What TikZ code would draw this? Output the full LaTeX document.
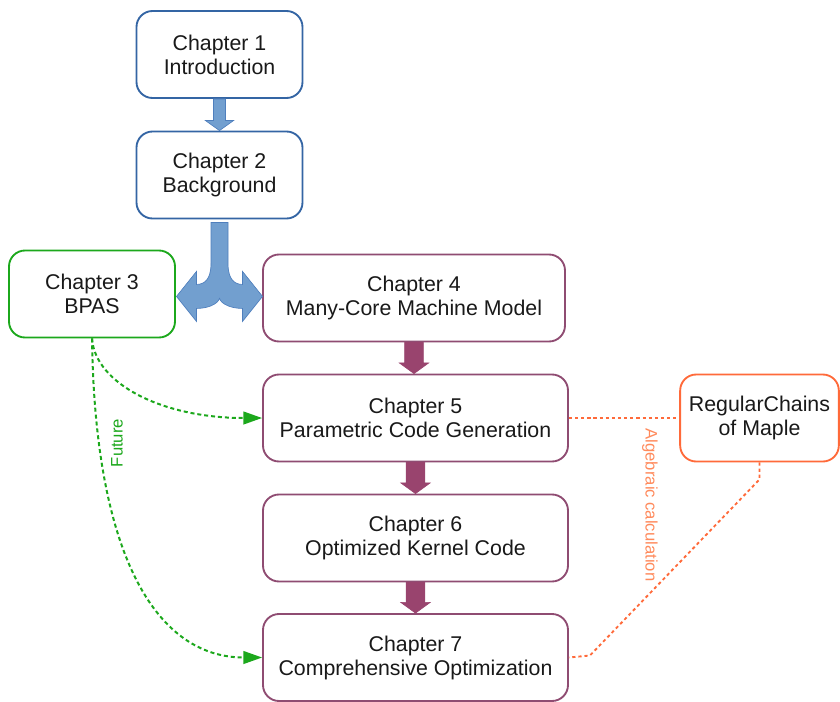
\documentclass[tikz,border=0pt]{standalone}
\usepackage{fontspec}
\setmainfont{Liberation Sans}
\usepackage{tikz}
\usetikzlibrary{calc,arrows.meta}

\definecolor{chapblue}{HTML}{3465A4}
\definecolor{arrblue}{HTML}{729FCF}
\definecolor{arrblueline}{HTML}{4F7FBD}
\definecolor{bpasgreen}{HTML}{1CA81C}
\definecolor{chappurple}{HTML}{8F4C72}
\definecolor{arrpurple}{HTML}{99446E}
\definecolor{rcorange}{HTML}{FF6A3A}
\definecolor{labelorange}{HTML}{FF8A5C}

% block arrow: style, from, to, half shaft, half head, head length
\newcommand{\blockarr}[6]{%
  \filldraw[#1] let \p1=(#2.south), \p2=(#3.north) in
    (\x1-#4,\y1) -- (\x1-#4,\y2+#6) -- (\x1-#5,\y2+#6) -- (\x1,\y2)
    -- (\x1+#5,\y2+#6) -- (\x1+#4,\y2+#6) -- (\x1+#4,\y1) -- cycle;}

\tikzset{
  chapbox/.style={draw, rounded corners=12pt, line width=1.4pt, fill=white,
    align=center, inner sep=0pt, minimum height=65.25pt, text=black!90,
    font=\fontsize{16}{18}\selectfont},
  bluebox/.style={chapbox, draw=chapblue, minimum width=124.5pt},
  greenbox/.style={chapbox, draw=bpasgreen, minimum width=124.5pt},
  purplebox/.style={chapbox, draw=chappurple, minimum width=228.75pt},
  orangebox/.style={chapbox, draw=rcorange, minimum width=119pt},
  bluearrow/.style={fill=arrblue, draw=arrblueline, line width=0.5pt},
  purplearrow/.style={fill=arrpurple, draw=arrpurple, line width=0.5pt},
  futureline/.style={draw=bpasgreen, line width=1.5pt, dash pattern=on 3pt off 2.2pt,
    -{Triangle[length=14pt,width=9.5pt]}},
  algline/.style={draw=rcorange, line width=1.4pt, dash pattern=on 2.4pt off 2.2pt},
  linelabel/.style={font=\fontsize{12.5}{15}\selectfont, inner sep=0pt}
}

\begin{document}
\begin{tikzpicture}[x=0.75pt,y=-0.75pt]
  \useasboundingbox (0,0) rectangle (840,701);

  % chapters
  \node[bluebox] (ch1) at (219.5,54.5) {Chapter 1\\Introduction};
  \node[bluebox] (ch2) at (219.5,175) {Chapter 2\\Background};
  \node[greenbox] (ch3) at (92,294) {Chapter 3\\BPAS};
  \node[purplebox, minimum width=226.5pt] (ch4) at (414,298) {Chapter 4\\Many-Core Machine Model};
  \node[purplebox] (ch5) at (415.5,418) {Chapter 5\\Parametric Code Generation};
  \node[purplebox] (ch6) at (415.5,538) {Chapter 6\\Optimized Kernel Code};
  \node[purplebox] (ch7) at (415.5,657.5) {Chapter 7\\Comprehensive Optimization};
  \node[orangebox] (rc) at (759.5,418) {RegularChains\\of Maple};

  % block arrows
  \blockarr{bluearrow}{ch1}{ch2}{4.5pt}{10.5pt}{7.5pt}
  \blockarr{purplearrow}{ch4}{ch5}{7pt}{11pt}{8pt}
  \blockarr{purplearrow}{ch5}{ch6}{7pt}{11pt}{8pt}
  \blockarr{purplearrow}{ch6}{ch7}{7pt}{11pt}{8pt}

  % fork from chapter 2 to chapters 3 and 4
  \begin{scope}[shift={(ch2.south)}]
    \filldraw[bluearrow] (-8.5,3) -- (-8.5,44) .. controls (-8.5,60) and (-15,65) .. (-23,65)
      -- (-23,52) -- (-43,77) -- (-23,102) -- (-23,89)
      .. controls (-12,89) and (-2,85) .. (0,79)
      .. controls (2,85) and (12,89) .. (23,89)
      -- (23,102) -- (43,77) -- (23,52) -- (23,65)
      .. controls (15,65) and (8.5,60) .. (8.5,44) -- (8.5,3) -- cycle;
  \end{scope}

  % future work
  \draw[futureline] (ch3.south) .. controls +(3,45) and +(-100,0) .. (ch5.west);
  \draw[futureline] (ch3.south) .. controls +(3,223) and +(-103,0) .. (ch7.west);
  \node[linelabel, text=bpasgreen, rotate=90] (fut) at (117,443) {Future};

  % algebraic calculation
  \draw[algline] (ch5.east) -- (rc.west);
  \draw[algline] (rc.south) -- ++(0,17) -- ($(ch7.east)+(21,-2)$) -- (ch7.east);
  \node[linelabel, text=labelorange, rotate=-90] (alg) at (650,505) {Algebraic calculation};
\end{tikzpicture}
\end{document}
